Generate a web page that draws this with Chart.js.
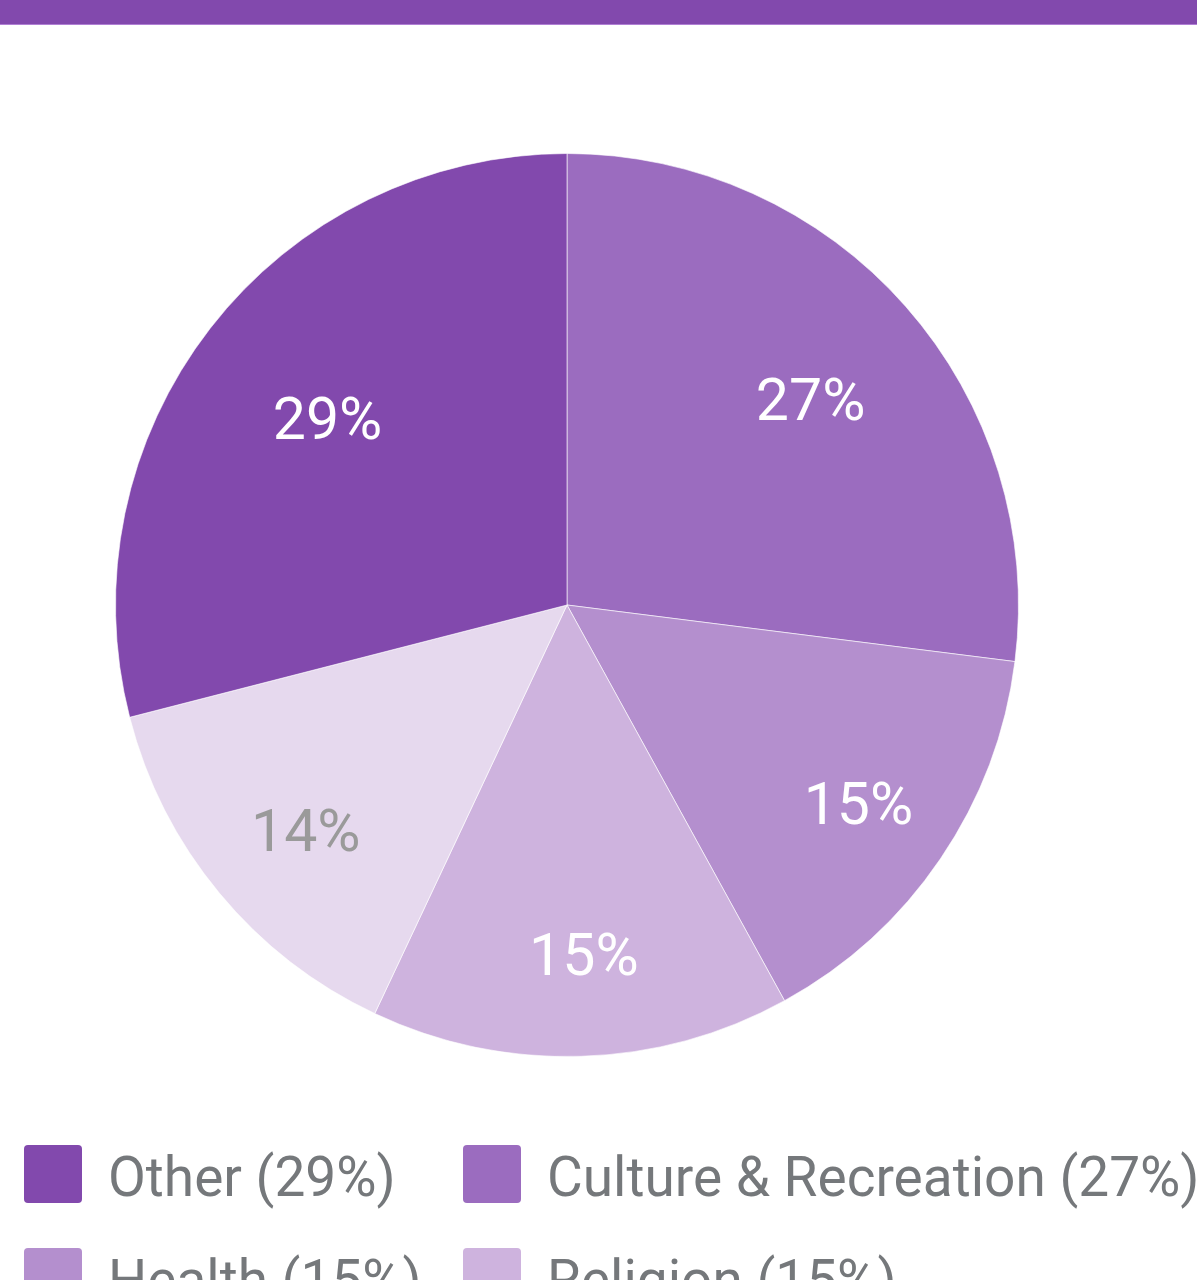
<!DOCTYPE html>
<html>
<head>
<meta charset="utf-8">
<script src="https://cdn.jsdelivr.net/npm/chart.js@4/dist/chart.umd.min.js"></script>
<style>
  html, body { margin: 0; padding: 0; background: #fff; width: 1197px; height: 1280px; overflow: hidden; font-family: Roboto, "Noto Sans", sans-serif; }
  #topbar { position: absolute; left: 0; top: 0; width: 1197px; height: 24px; background: #8249ad; border-bottom: 1px solid #b07fd4; }
  #wrap { position: absolute; left: 0; top: 140px; width: 1134px; height: 930px; }
  #legend { position: absolute; left: 24px; top: 1145px; display: grid; grid-template-columns: 439px auto; grid-auto-rows: 103px; }
  .item { display: flex; align-items: flex-start; }
  .box { width: 58px; height: 58px; border-radius: 4px; flex: none; }
  .txt { margin-left: 26px; font-size: 55px; line-height: 58px; padding-top: 3px; color: #75787b; white-space: nowrap; }
</style>
</head>
<body>
<div id="topbar"></div>
<div id="wrap"><canvas id="c"></canvas></div>
<div id="legend"></div>
<script>
// Data (clockwise from 12 o'clock)
const categories = ["Culture & Recreation", "Health", "Religion", "Education", "Other"];
const values = [27, 15, 15, 14, 29];
const sliceColors = ["#9b6cbf", "#b48fce", "#ceb3de", "#e6d9ee", "#8249ad"];
const labelColors = ["#ffffff", "#ffffff", "#ffffff", "#9a9a9a", "#ffffff"];
// Legend order
const legendOrder = ["Other", "Culture & Recreation", "Health", "Religion", "Education"];

const sliceLabels = {
  id: 'sliceLabels',
  afterDatasetsDraw(chart) {
    const ctx = chart.ctx;
    const meta = chart.getDatasetMeta(0);
    const total = values.reduce((a, b) => a + b, 0);
    ctx.save();
    ctx.font = '59px Roboto, "Noto Sans", sans-serif';
    ctx.textAlign = 'center';
    ctx.textBaseline = 'middle';
    meta.data.forEach((arc, i) => {
      const p = arc.getProps(['x', 'y', 'startAngle', 'endAngle', 'outerRadius'], true);
      const theta = p.endAngle - p.startAngle;
      const mid = (p.startAngle + p.endAngle) / 2;
      const centroid = 4 * p.outerRadius * Math.sin(theta / 2) / (3 * theta);
      const d = centroid * 1.19;
      ctx.fillStyle = labelColors[i];
      ctx.fillText(Math.round(values[i] / total * 100) + '%', p.x + Math.cos(mid) * d + 6, p.y + Math.sin(mid) * d + 10);
    });
    ctx.restore();
  }
};

const chart = new Chart(document.getElementById('c'), {
  type: 'pie',
  data: {
    labels: categories,
    datasets: [{
      data: values,
      backgroundColor: sliceColors,
      borderColor: 'rgba(255,255,255,0.6)',
      borderWidth: 1
    }]
  },
  options: {
    responsive: true,
    maintainAspectRatio: false,
    animation: false,
    layout: { padding: { top: 13, bottom: 13 } },
    plugins: { legend: { display: false }, tooltip: { enabled: false } }
  },
  plugins: [sliceLabels]
});

const total = values.reduce((a, b) => a + b, 0);
const legend = document.getElementById('legend');
legendOrder.forEach(name => {
  const i = categories.indexOf(name);
  const item = document.createElement('div');
  item.className = 'item';
  const box = document.createElement('div');
  box.className = 'box';
  box.style.background = sliceColors[i];
  const txt = document.createElement('div');
  txt.className = 'txt';
  txt.textContent = name + ' (' + Math.round(values[i] / total * 100) + '%)';
  item.appendChild(box);
  item.appendChild(txt);
  legend.appendChild(item);
});
</script>
</body>
</html>
